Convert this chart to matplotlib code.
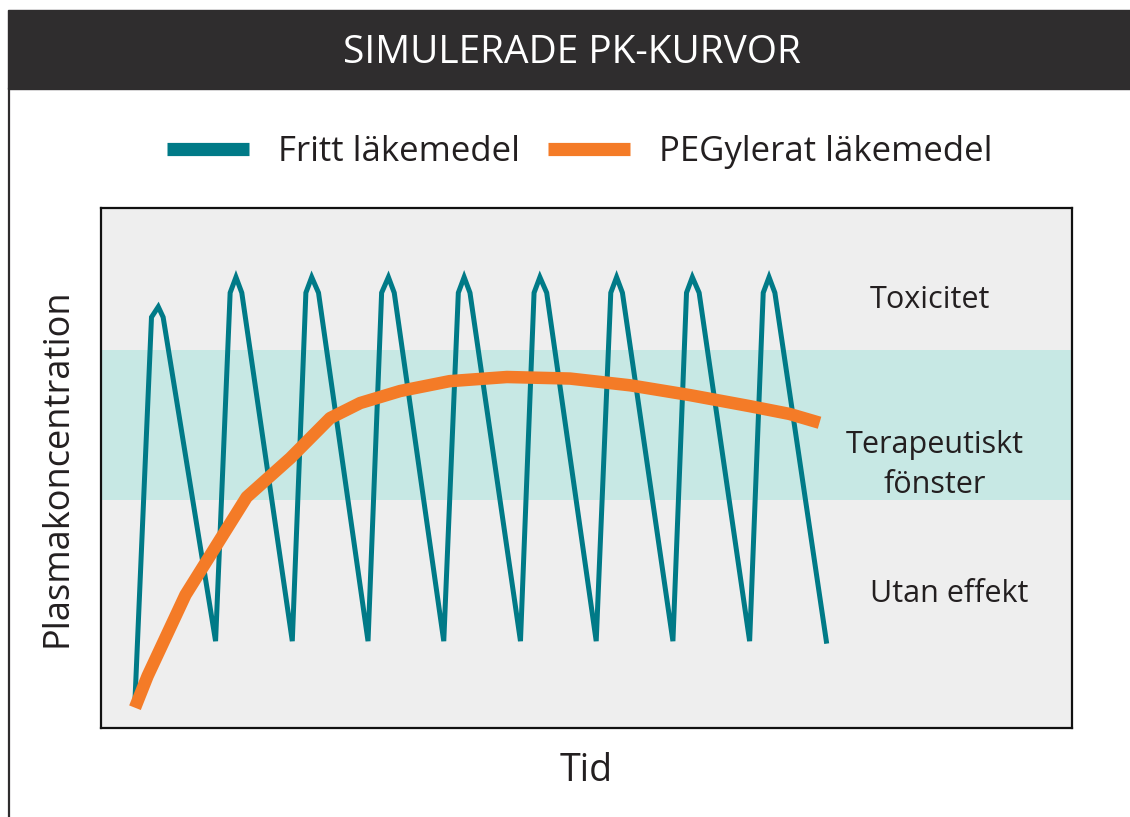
import matplotlib.pyplot as plt
from matplotlib.lines import Line2D
from matplotlib.patches import Rectangle

plt.rcParams['font.family'] = ['Open Sans', 'DejaVu Sans']

title = "SIMULERADE PK-KURVOR"
label_free = "Fritt läkemedel"
label_peg = "PEGylerat läkemedel"

# time (arbitrary units 0-100) and concentration (0-100)
free_t = [3.5, 5.2, 5.9, 6.4, 11.8, 13.3, 13.9, 14.5, 19.7, 21.1, 21.7, 22.4,
          27.5, 28.9, 29.6, 30.2, 35.3, 36.8, 37.4, 38.0, 43.2, 44.6, 45.2, 45.9,
          51.0, 52.5, 53.1, 53.7, 58.9, 60.3, 60.9, 61.6, 66.8, 68.2, 68.8, 69.4,
          74.7]
free_c = [5.4, 79.0, 81.0, 79.0, 16.7, 83.7, 86.7, 83.7, 16.7, 83.7, 86.7, 83.7,
          16.7, 83.7, 86.7, 83.7, 16.7, 83.7, 86.7, 83.7, 16.7, 83.7, 86.7, 83.7,
          16.7, 83.7, 86.7, 83.7, 16.7, 83.7, 86.7, 83.7, 16.7, 83.7, 86.7, 83.7,
          16.7]

peg_t = [3.5, 4.8, 8.7, 15.0, 19.5, 23.6, 26.7, 30.8, 35.9, 41.8, 48.3, 54.5,
         60.7, 66.8, 70.9, 74.0]
peg_c = [3.9, 10.0, 25.6, 44.4, 51.9, 59.6, 62.5, 64.8, 66.7, 67.5, 67.2, 65.9,
         64.0, 61.9, 60.4, 58.7]

window = (43.8, 72.7)
zones = ["Toxicitet", "Terapeutiskt\nfönster", "Utan effekt"]
zone_x = [85.4, 85.9, 87.4]
zone_y = [82.3, 50.6, 25.8]

teal = "#007a87"
orange = "#f47b27"

fig = plt.figure(figsize=(11.3, 8.17), dpi=100)

# title bar and left border
fig.patches.append(Rectangle((8 / 1130, 1 - 89 / 817), 1, 79 / 817,
                             transform=fig.transFigure, color="#2f2d2e", zorder=0))
fig.lines.append(Line2D([8.5 / 1130, 8.5 / 1130], [0, 1 - 89 / 817],
                        transform=fig.transFigure, color="#2f2d2e", lw=1.6))
fig.text(0.506, 1 - 53 / 817, title, color="white", fontsize=28,
         ha="center", va="center")

ax = fig.add_axes([101 / 1130, 89 / 817, 971 / 1130, 520 / 817])
ax.set_facecolor("#eeeeee")
ax.axhspan(window[0], window[1], color="#c7e8e4", lw=0, zorder=0)
ax.plot(free_t, free_c, color=teal, lw=3.6, solid_joinstyle="miter", zorder=2)
ax.plot(peg_t, peg_c, color=orange, lw=9, solid_capstyle="butt", zorder=3)
ax.set_xlim(0, 100)
ax.set_ylim(0, 100)
ax.set_xticks([])
ax.set_yticks([])
for s in ax.spines.values():
    s.set_linewidth(1.6)
    s.set_color("#111111")

for txt, x, y in zip(zones, zone_x, zone_y):
    ax.text(x, y, txt, ha="center", va="center", fontsize=22,
            color="#231f20", linespacing=1.45)

ax.set_xlabel("Tid", fontsize=27, color="#231f20", labelpad=17)
ax.set_ylabel("Plasmakoncentration", fontsize=26, color="#231f20", labelpad=18)

handles = [Line2D([], [], color=teal, lw=9.5, solid_capstyle="butt"),
           Line2D([], [], color=orange, lw=9.5, solid_capstyle="butt")]
fig.legend(handles, [label_free, label_peg], loc="center",
           bbox_to_anchor=(0.513, 1 - 152 / 817), ncol=2, frameon=False,
           fontsize=25, handlelength=2.36, handletextpad=0.85, columnspacing=0.8,
           labelcolor="#231f20")

fig.savefig("out.png")
